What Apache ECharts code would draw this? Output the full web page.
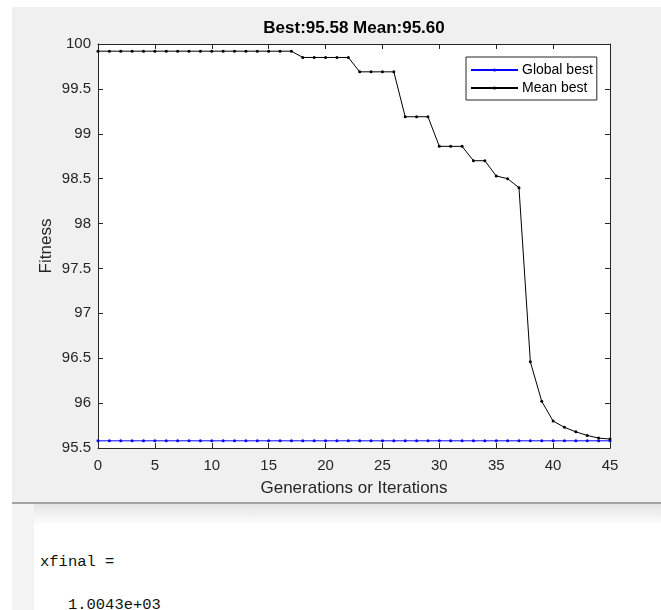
<!DOCTYPE html>
<html>
<head>
<meta charset="utf-8">
<script src="https://cdn.jsdelivr.net/npm/echarts@6/dist/echarts.min.js"></script>
<style>
  html, body { margin: 0; padding: 0; background: #fff; width: 661px; height: 610px; overflow: hidden; }
  #panel { position: absolute; left: 12px; top: 7px; width: 649px; height: 496px; background: #f0f0f0; }
  #sep { position: absolute; left: 12px; top: 502px; width: 649px; height: 2px; background: #a4a4a4; }
  #shade { position: absolute; left: 12px; top: 504px; width: 649px; height: 22px;
           background: linear-gradient(#e4e4e4, rgba(255,255,255,0)); }
  #strip { position: absolute; left: 12px; top: 504px; width: 22px; height: 106px; background: #f3f3f3; }
  #chart { position: absolute; left: 0; top: 0; width: 661px; height: 503px; }
  .con { position: absolute; font-family: "Liberation Mono", "DejaVu Sans Mono", monospace;
         font-size: 15.5px; line-height: 16px; color: #111; white-space: pre; }
</style>
</head>
<body>
<div id="panel"></div>
<div id="sep"></div>
<div id="shade"></div>
<div id="strip"></div>
<div id="chart"></div>
<div class="con" style="left:40px; top:554px;">xfinal =</div>
<div class="con" style="left:40px; top:597px;">   1.0043e+03</div>
<script>
// generations (x values)
var generations = [0, 1, 2, 3, 4, 5, 6, 7, 8, 9, 10, 11, 12, 13, 14, 15, 16, 17, 18, 19, 20, 21, 22,
                   23, 24, 25, 26, 27, 28, 29, 30, 31, 32, 33, 34, 35, 36, 37, 38, 39, 40, 41, 42, 43, 44, 45];
// global best fitness
var globalBest = [95.58, 95.58, 95.58, 95.58, 95.58, 95.58, 95.58, 95.58, 95.58, 95.58, 95.58, 95.58,
                  95.58, 95.58, 95.58, 95.58, 95.58, 95.58, 95.58, 95.58, 95.58, 95.58, 95.58, 95.58,
                  95.58, 95.58, 95.58, 95.58, 95.58, 95.58, 95.58, 95.58, 95.58, 95.58, 95.58, 95.58,
                  95.58, 95.58, 95.58, 95.58, 95.58, 95.58, 95.58, 95.58, 95.58, 95.58];
// mean best fitness
var meanBest = [99.92, 99.92, 99.92, 99.92, 99.92, 99.92, 99.92, 99.92, 99.92, 99.92, 99.92, 99.92,
                99.92, 99.92, 99.92, 99.92, 99.92, 99.92, 99.85, 99.85, 99.85, 99.85, 99.85, 99.69,
                99.69, 99.69, 99.69, 99.19, 99.19, 99.19, 98.86, 98.86, 98.86, 98.70, 98.70, 98.53,
                98.50, 98.40, 96.46, 96.02, 95.80, 95.73, 95.68, 95.64, 95.61, 95.60];
var seriesNames = ['Global best', 'Mean best'];
var titleText = 'Best:95.58 Mean:95.60';

function pairs(ys) {
	var out = [];
	for (var i = 0; i < generations.length; i++) {
		out.push([generations[i], ys[i]]);
	}
	return out;
}

var axisColor = '#262626';
var font = '"Liberation Sans", Arial, sans-serif';

// box axes: ticks inside on all 4 sides
function boxAxis(extra) {
	var a = {
		axisLine: {show: true, onZero: false, lineStyle: {color: axisColor, width: 1}},
		axisTick: {show: true, inside: true, length: 5, lineStyle: {color: axisColor}},
		splitLine: {show: false},
		axisLabel: {show: false}
	};
	for (var k in extra) a[k] = extra[k];
	return a;
}

var chart = echarts.init(document.getElementById('chart'));
chart.setOption({
	backgroundColor: 'transparent',
	animation: false,
	title: {
		text: titleText,
		left: 354,
		top: 20,
		padding: 0,
		textAlign: 'center',
		textStyle: {fontFamily: font, fontSize: 17, fontWeight: 'bold', color: '#000'}
	},
	grid: {left: 98, top: 44, width: 512, height: 404, show: true, backgroundColor: '#fff', borderWidth: 0},
	legend: {
		data: seriesNames,
		orient: 'vertical',
		left: 466,
		top: 57,
		padding: [6, 4, 5, 4],
		itemWidth: 47,
		itemHeight: 4,
		itemGap: 4,
		backgroundColor: '#fff',
		borderColor: axisColor,
		borderWidth: 1,
		borderRadius: 0,
		textStyle: {fontFamily: font, fontSize: 14, color: '#000', padding: [0, 0, 0, -1]}
	},
	xAxis: [
		boxAxis({
			type: 'value', min: 0, max: 45, interval: 5, position: 'bottom',
			axisLabel: {show: true, fontFamily: font, fontSize: 15, color: axisColor, margin: 10},
			name: 'Generations or Iterations', nameLocation: 'middle', nameGap: 32,
			nameTextStyle: {fontFamily: font, fontSize: 17, color: axisColor}
		}),
		boxAxis({type: 'value', min: 0, max: 45, interval: 5, position: 'top'})
	],
	yAxis: [
		boxAxis({
			type: 'value', min: 95.5, max: 100, interval: 0.5, position: 'left',
			axisLabel: {show: true, fontFamily: font, fontSize: 15, color: axisColor, margin: 7},
			name: 'Fitness', nameLocation: 'middle', nameGap: 43, nameMoveOverlap: false,
			nameTextStyle: {fontFamily: font, fontSize: 17, color: axisColor}
		}),
		boxAxis({type: 'value', min: 95.5, max: 100, interval: 0.5, position: 'right'})
	],
	series: [
		{
			name: seriesNames[0],
			type: 'line',
			data: pairs(globalBest),
			symbol: 'circle',
			symbolSize: 3,
			showAllSymbol: true,
			lineStyle: {color: '#0000ff', width: 1},
			itemStyle: {color: '#0000ff'},
			emphasis: {disabled: true}
		},
		{
			name: seriesNames[1],
			type: 'line',
			data: pairs(meanBest),
			symbol: 'circle',
			symbolSize: 3,
			showAllSymbol: true,
			lineStyle: {color: '#000', width: 1},
			itemStyle: {color: '#000'},
			emphasis: {disabled: true}
		}
	]
});
</script>
</body>
</html>
